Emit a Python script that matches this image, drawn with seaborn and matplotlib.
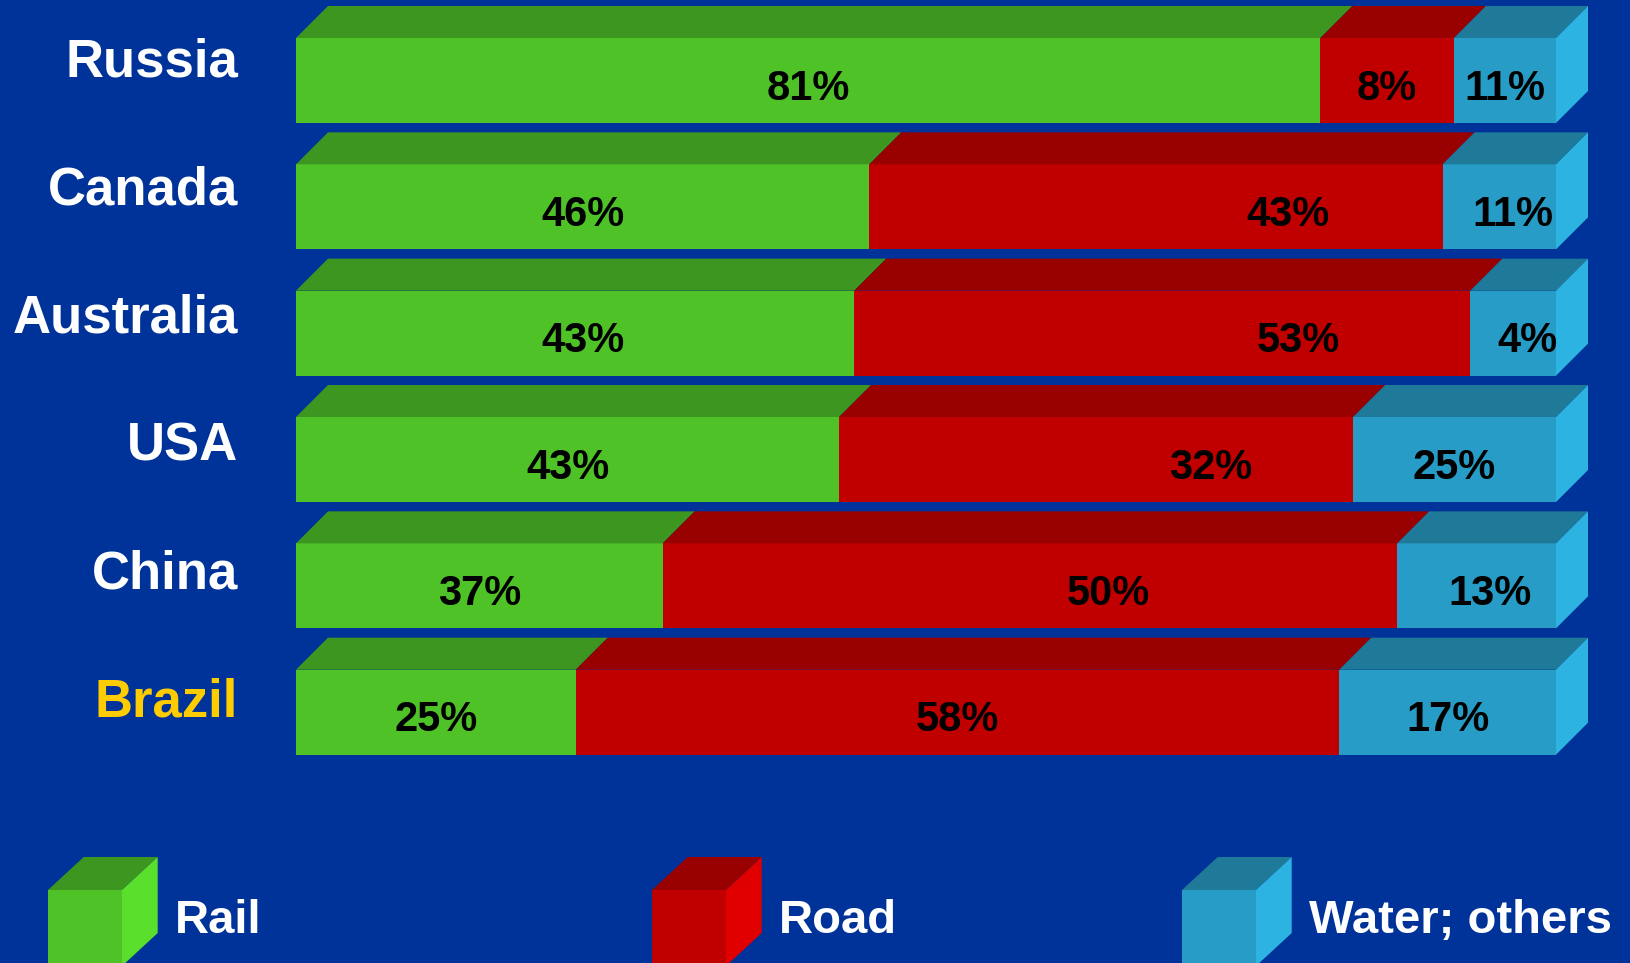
import numpy as np
import seaborn as sns
import matplotlib
matplotlib.use("Agg")
import matplotlib.pyplot as plt
from matplotlib.patches import Polygon, Rectangle

# data
countries = ["Russia", "Canada", "Australia", "USA", "China", "Brazil"]
modes = ["Rail", "Road", "Water; others"]
# bar lengths as drawn in the picture (%)
rail_len = [81.3, 45.5, 44.3, 43.1, 29.1, 22.2]
road_len = [10.6, 45.5, 48.9, 40.8, 58.3, 60.6]
water_len = [8.1, 9.0, 6.8, 16.1, 12.6, 17.2]
# printed labels
rail_lbl = ["81%", "46%", "43%", "43%", "37%", "25%"]
road_lbl = ["8%", "43%", "53%", "32%", "50%", "58%"]
water_lbl = ["11%", "11%", "4%", "25%", "13%", "17%"]

# colours: front, top, side
BG = "#003399"
cols = {
    "Rail": ("#4FC228", "#3D961F", "#5AE02C"),
    "Road": ("#C00000", "#990000", "#E00000"),
    "Water; others": ("#269CC6", "#1F7A99", "#2DB3E2"),
}

# layout in pixels
W, H = 1630, 963
x0_px, x100_px = 296, 1556
row0_px, pitch_px = 80.5, 126.34
ppp = (x100_px - x0_px) / 100.0          # pixels per percent
bar_h = 85 / pitch_px
dx = 32 / ppp
dy = 32 / pitch_px
name_px0, name_pitch = 76.7, 127.9       # baselines of the country names
label_nudge = {  # label x shift in %, (row, mode)
    (1, 1): 10.5, (1, 2): 1.1, (2, 0): 0.6, (2, 1): 10.8, (2, 2): 1.1,
    (3, 1): 9.1, (4, 1): 6.2, (4, 2): 1.1,
}

plt.rcParams["font.family"] = ["Liberation Sans", "DejaVu Sans"]
plt.rcParams["font.weight"] = "bold"

fig = plt.figure(figsize=(W / 100, H / 100), dpi=100, facecolor=BG)
ax = fig.add_axes([0, 0, 1, 1])
ax.set_facecolor(BG)

lens = np.array([rail_len, road_len, water_len])
cum = np.cumsum(lens, axis=0)

# front faces: cumulative totals drawn back to front
for j in [2, 1, 0]:
    sns.barplot(x=cum[j], y=countries, orient="h", color=cols[modes[j]][0],
                width=bar_h, saturation=1, errorbar=None, linewidth=0, ax=ax)

ax.set_xlim(-x0_px / ppp, (W - x0_px) / ppp)
ax.set_ylim((H - row0_px) / pitch_px, -row0_px / pitch_px)
ax.axis("off")

labels = [rail_lbl, road_lbl, water_lbl]
for i, c in enumerate(countries):
    top = i - bar_h / 2
    bot = i + bar_h / 2
    for j, m in enumerate(modes):
        a = cum[j][i] - lens[j][i]
        b = cum[j][i]
        ax.add_patch(Polygon([(a, top), (b, top), (b + dx, top - dy), (a + dx, top - dy)],
                             closed=True, facecolor=cols[m][1], edgecolor="none"))
        xm = (a + b) / 2 + label_nudge.get((i, j), 0)
        ax.text(xm, i + 19 / pitch_px, labels[j][i], ha="center", va="baseline",
                fontsize=30, fontweight="bold", color="black")
    end = cum[2][i]
    ax.add_patch(Polygon([(end, top), (end + dx, top - dy), (end + dx, bot - dy), (end, bot)],
                         closed=True, facecolor=cols[modes[2]][2], edgecolor="none"))
    yname = (name_px0 + name_pitch * i - row0_px) / pitch_px
    ax.text(-58 / ppp, yname, c, ha="right", va="baseline", fontsize=38,
            fontweight="bold", color="#FFCC00" if c == "Brazil" else "white")

# legend with cubes
lg = fig.add_axes([0, 0, 1, 1])
lg.set_xlim(0, W)
lg.set_ylim(H, 0)
lg.axis("off")
lg.patch.set_alpha(0)
cube_x = [48, 652, 1182]
text_x = [175, 779, 1309]
cw, ch, cdx, cdy, cy = 74, 76, 35.7, 33, 890
for m, xc, xt in zip(modes, cube_x, text_x):
    f, t, s = cols[m]
    lg.add_patch(Rectangle((xc, cy), cw, ch, facecolor=f, edgecolor="none"))
    lg.add_patch(Polygon([(xc, cy), (xc + cw, cy), (xc + cw + cdx, cy - cdy), (xc + cdx, cy - cdy)],
                         closed=True, facecolor=t, edgecolor="none"))
    lg.add_patch(Polygon([(xc + cw, cy), (xc + cw + cdx, cy - cdy), (xc + cw + cdx, cy + ch - cdy),
                          (xc + cw, cy + ch)], closed=True, facecolor=s, edgecolor="none"))
    lg.text(xt, 933, m, ha="left", va="baseline", fontsize=34, fontweight="bold", color="white")

fig.savefig("out.png", dpi=100, facecolor=BG)
